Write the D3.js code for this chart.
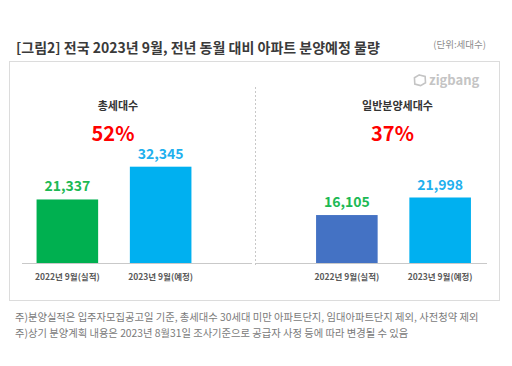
<!DOCTYPE html>
<html>
<head>
<meta charset="utf-8">
<script src="https://cdn.jsdelivr.net/npm/d3@7"></script>
<style>
  body { margin: 0; background: #fff; }
  text { font-family: "Noto Sans CJK KR", "Noto Sans", sans-serif; }
</style>
</head>
<body>
<div id="chart"></div>
<script>
// chart data
const titleText = "[그림2] 전국 2023년 9월, 전년 동월 대비 아파트 분양예정 물량";
const unitText = "(단위:세대수)";
const periods = ["2022년 9월(실적)", "2023년 9월(예정)"];
const panelNames = ["총세대수", "일반분양세대수"];
const totalUnits = [21337, 32345];
const generalUnits = [16105, 21998];
const changeLabels = ["52%", "37%"];
const footnotes = [
    "주)분양실적은 입주자모집공고일 기준, 총세대수 30세대 미만 아파트단지, 임대아파트단지 제외, 사전청약 제외",
    "주)상기 분양계획 내용은 2023년 8월31일 조사기준으로 공급자 사정 등에 따라 변경될 수 있음"
];

const width = 512, height = 366;
const baseY = 263;

let svg = d3.select("#chart").append("svg")
    .attr("width", width)
    .attr("height", height);

// title + unit
svg.append("text")
    .attr("x", 16).attr("y", 53)
    .attr("font-size", 14).attr("font-weight", 700)
    .attr("fill", "#3a3a3a")
    .text(titleText);

svg.append("text")
    .attr("x", 486).attr("y", 48)
    .attr("text-anchor", "end")
    .attr("font-size", 9.5)
    .attr("fill", "#8c8c8c")
    .text(unitText);

// frame
svg.append("rect")
    .attr("x", 9.5).attr("y", 61.5)
    .attr("width", 490).attr("height", 239)
    .attr("fill", "#fff")
    .attr("stroke", "#dcdcdc");

// zigbang mark
let logo = svg.append("g").attr("transform", "translate(414,80)");
logo.append("path")
    .attr("d", "M-1,-5 L5,-5 L7,1 L3,5 L-3,5 L-5,-1 Z")
    .attr("transform", "translate(5,0) rotate(15)")
    .attr("fill", "none")
    .attr("stroke", "#c4c4c4")
    .attr("stroke-width", 1.6);
logo.append("text")
    .attr("x", 15).attr("y", 4.5)
    .attr("font-family", "Lato, 'Noto Sans', sans-serif")
    .attr("font-size", 13).attr("font-weight", 700)
    .attr("fill", "#c4c4c4")
    .text("zigbang");

// dashed divider
svg.append("line")
    .attr("x1", 255.5).attr("x2", 255.5)
    .attr("y1", 87).attr("y2", 267)
    .attr("stroke", "#c8c8c8")
    .attr("stroke-dasharray", "2,2");

// shared value scale
let y = d3.scaleLinear()
    .domain([0, 40000])
    .range([baseY, baseY - 119.1]);

let panels = [
    {name: panelNames[0], values: totalUnits, change: changeLabels[0],
        mid: 114, axis: [22, 252], colors: ["#00b050", "#00b0f0"]},
    {name: panelNames[1], values: generalUnits, change: changeLabels[1],
        mid: 393.5, axis: [256, 487], colors: ["#4472c4", "#00b0f0"]}
];
let labelColors = ["#1db954", "#1fb0ee"];

panels.forEach(function(p) {
    let x = d3.scaleBand()
        .domain(periods)
        .range([p.mid - 93.3, p.mid + 93.3])
        .paddingInner(0.34)
        .paddingOuter(0.17);

    let g = svg.append("g");

    g.selectAll("rect.bar")
        .data(p.values)
        .enter().append("rect")
        .attr("class", "bar")
        .attr("x", (d, i) => x(periods[i]))
        .attr("y", d => y(d))
        .attr("width", x.bandwidth())
        .attr("height", d => y(0) - y(d))
        .attr("fill", (d, i) => p.colors[i]);

    g.selectAll("text.val")
        .data(p.values)
        .enter().append("text")
        .attr("class", "val")
        .attr("x", (d, i) => x(periods[i]) + x.bandwidth() / 2)
        .attr("y", d => y(d) - 8)
        .attr("text-anchor", "middle")
        .attr("font-family", "'Noto Sans', sans-serif")
        .attr("font-size", 14).attr("font-weight", 700)
        .attr("fill", (d, i) => labelColors[i])
        .text(d => d3.format(",")(d));

    // axis line
    g.append("line")
        .attr("x1", p.axis[0]).attr("x2", p.axis[1])
        .attr("y1", baseY + 0.5).attr("y2", baseY + 0.5)
        .attr("stroke", "#c9c9c9");

    let ax = g.append("g")
        .attr("transform", `translate(0,${baseY})`)
        .call(d3.axisBottom(x).tickSize(0).tickPadding(11));
    ax.select(".domain").remove();
    ax.selectAll("text")
        .attr("font-family", "'Noto Sans CJK KR', sans-serif")
        .attr("font-size", 8.5).attr("font-weight", 700)
        .attr("fill", "#595959");

    g.append("text")
        .attr("x", p.mid + 4).attr("y", 110)
        .attr("text-anchor", "middle")
        .attr("font-size", 11).attr("font-weight", 700)
        .attr("fill", "#333")
        .text(p.name);

    g.append("text")
        .attr("x", p.mid - 1).attr("y", 141)
        .attr("text-anchor", "middle")
        .attr("font-family", "'Noto Sans', sans-serif")
        .attr("font-size", 20).attr("font-weight", 700)
        .attr("fill", "#ff0000")
        .text(p.change);
});

// footnotes
svg.selectAll("text.note")
    .data(footnotes)
    .enter().append("text")
    .attr("class", "note")
    .attr("x", 15)
    .attr("y", (d, i) => 321 + i * 16)
    .attr("font-size", 10.3)
    .attr("fill", "#7a7a7a")
    .text(d => d);
</script>
</body>
</html>
